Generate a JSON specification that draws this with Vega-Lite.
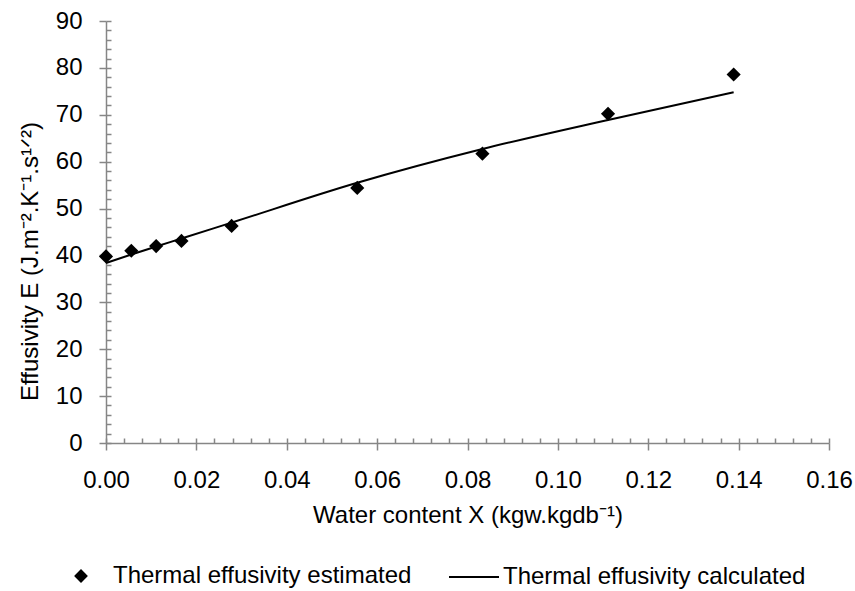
{
  "$schema": "https://vega.github.io/schema/vega-lite/v6.json",
  "width": 723,
  "height": 422,
  "autosize": "none",
  "padding": {"left": 106, "top": 21, "right": 26, "bottom": 148},
  "background": "white",
  "config": {"view": {"stroke": null}, "font": "Liberation Sans"},
  "datasets": {
    "estimated": [
      {"x": 0.0, "y": 39.8, "series": "Thermal effusivity estimated"},
      {"x": 0.0056, "y": 41.0, "series": "Thermal effusivity estimated"},
      {"x": 0.0111, "y": 42.0, "series": "Thermal effusivity estimated"},
      {"x": 0.0167, "y": 43.1, "series": "Thermal effusivity estimated"},
      {"x": 0.0278, "y": 46.3, "series": "Thermal effusivity estimated"},
      {"x": 0.0556, "y": 54.4, "series": "Thermal effusivity estimated"},
      {"x": 0.0833, "y": 61.7, "series": "Thermal effusivity estimated"},
      {"x": 0.1111, "y": 70.2, "series": "Thermal effusivity estimated"},
      {"x": 0.1389, "y": 78.6, "series": "Thermal effusivity estimated"}
    ],
    "calculated": [
      {"x": 0.0, "y": 38.4, "series": "Thermal effusivity calculated"},
      {"x": 0.0056, "y": 40.2, "series": "Thermal effusivity calculated"},
      {"x": 0.0111, "y": 41.9, "series": "Thermal effusivity calculated"},
      {"x": 0.0167, "y": 43.6, "series": "Thermal effusivity calculated"},
      {"x": 0.0278, "y": 47.0, "series": "Thermal effusivity calculated"},
      {"x": 0.0556, "y": 55.5, "series": "Thermal effusivity calculated"},
      {"x": 0.0833, "y": 62.7, "series": "Thermal effusivity calculated"},
      {"x": 0.1111, "y": 68.9, "series": "Thermal effusivity calculated"},
      {"x": 0.1389, "y": 74.8, "series": "Thermal effusivity calculated"}
    ]
  },
  "layer": [
    {
      "data": {"name": "estimated"},
      "mark": {"type": "point", "filled": true, "color": "black", "size": 200, "opacity": 1, "shape": "diamond"},
      "encoding": {
        "x": {
          "field": "x", "type": "quantitative",
          "scale": {"domain": [0, 0.16], "nice": false, "zero": false},
          "axis": {
            "orient": "bottom",
            "values": [0, 0.02, 0.04, 0.06, 0.08, 0.1, 0.12, 0.14, 0.16],
            "format": ".2f",
            "grid": false,
            "tickSize": 7, "tickColor": "#868686", "tickWidth": 1.5,
            "domainColor": "#868686", "domainWidth": 1.5,
            "labelFont": "Liberation Sans", "labelFontSize": 24, "labelColor": "black",
            "labelPadding": 18, "labelFlush": false, "labelOverlap": false,
            "title": "Water content X (kgw.kgdb⁻¹)",
            "titleFont": "Liberation Sans", "titleFontSize": 24, "titleFontWeight": "normal", "titleColor": "black",
            "titlePadding": 11
          }
        },
        "y": {
          "field": "y", "type": "quantitative",
          "scale": {"domain": [0, 90], "nice": false},
          "axis": {
            "orient": "left",
            "values": [0, 10, 20, 30, 40, 50, 60, 70, 80, 90],
            "grid": false,
            "tickSize": 7, "tickColor": "#868686", "tickWidth": 1.5,
            "domainColor": "#868686", "domainWidth": 1.5,
            "labelFont": "Liberation Sans", "labelFontSize": 24, "labelColor": "black",
            "labelPadding": 17, "labelOverlap": false,
            "title": "Effusivity E (J.m⁻².K⁻¹.s¹ᐟ²)",
            "titleFont": "Liberation Sans", "titleFontSize": 24, "titleFontWeight": "normal", "titleColor": "black",
            "titlePadding": 13,
            "titleY": 240
          }
        },
        "shape": {
          "field": "series", "type": "nominal",
          "scale": {"domain": ["Thermal effusivity estimated"], "range": ["diamond"]},
          "legend": {
            "orient": "none",
            "legendX": -37,
            "legendY": 543,
            "direction": "horizontal",
            "title": null,
            "padding": 0,
            "symbolSize": 190,
            "symbolFillColor": "black",
            "symbolStrokeWidth": 0,
            "symbolOpacity": 1,
            "labelFont": "Liberation Sans", "labelFontSize": 24, "labelColor": "black",
            "labelOffset": 20,
            "labelLimit": 500
          }
        }
      }
    },
    {
      "data": {"name": "calculated"},
      "mark": {"type": "line", "strokeWidth": 2, "interpolate": "monotone"},
      "encoding": {
        "x": {
          "field": "x", "type": "quantitative",
          "axis": {
            "orient": "bottom",
            "values": [0, 0.004, 0.008, 0.012, 0.016, 0.02, 0.024, 0.028, 0.032, 0.036, 0.04, 0.044, 0.048, 0.052, 0.056, 0.06, 0.064, 0.068, 0.072, 0.076, 0.08, 0.084, 0.088, 0.092, 0.096, 0.1, 0.104, 0.108, 0.112, 0.116, 0.12, 0.124, 0.128, 0.132, 0.136, 0.14, 0.144, 0.148, 0.152, 0.156, 0.16],
            "grid": false, "labels": false, "domain": false, "title": null,
            "tickSize": -5, "tickColor": "#868686", "tickWidth": 1.5
          }
        },
        "y": {
          "field": "y", "type": "quantitative",
          "axis": {
            "orient": "left",
            "values": [0, 2, 4, 6, 8, 10, 12, 14, 16, 18, 20, 22, 24, 26, 28, 30, 32, 34, 36, 38, 40, 42, 44, 46, 48, 50, 52, 54, 56, 58, 60, 62, 64, 66, 68, 70, 72, 74, 76, 78, 80, 82, 84, 86, 88, 90],
            "grid": false, "labels": false, "domain": false, "title": null,
            "tickSize": -5, "tickColor": "#868686", "tickWidth": 1.5
          }
        },
        "color": {
          "field": "series", "type": "nominal",
          "scale": {"domain": ["Thermal effusivity calculated"], "range": ["black"]},
          "legend": {
            "orient": "none",
            "legendX": 342,
            "legendY": 530,
            "direction": "horizontal",
            "title": null,
            "padding": 0,
            "symbolType": "stroke",
            "symbolSize": 2500,
            "symbolStrokeColor": "black",
            "symbolStrokeWidth": 2,
            "labelFont": "Liberation Sans", "labelFontSize": 24, "labelColor": "black",
            "labelOffset": 3,
            "labelLimit": 500
          }
        }
      }
    }
  ],
  "resolve": {"axis": {"x": "independent", "y": "independent"}}
}
